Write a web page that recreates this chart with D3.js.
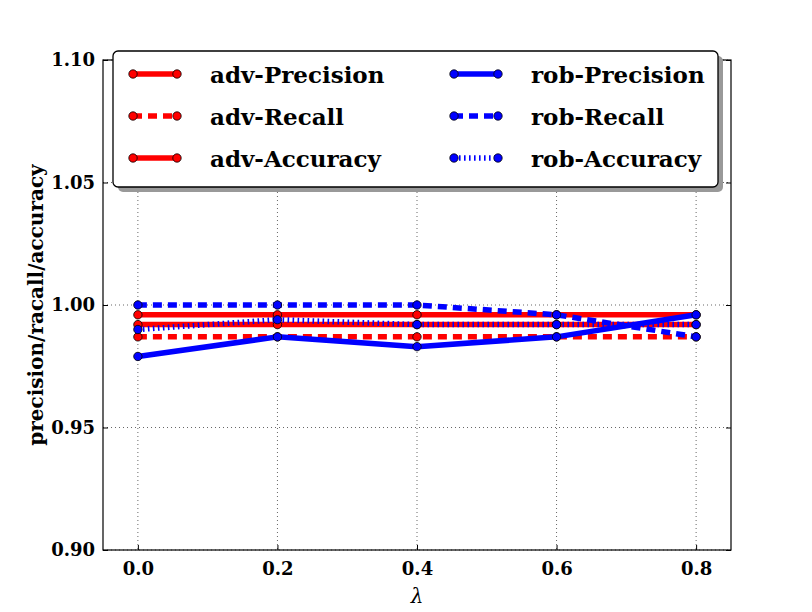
<!DOCTYPE html>
<html><head><meta charset="utf-8">
<script src="https://cdn.jsdelivr.net/npm/d3@7"></script>
<style>body{margin:0;background:#fff}svg{display:block}</style>
</head><body>
<script>
const lambdas = [0.0, 0.2, 0.4, 0.6, 0.8];
const advPrecision = [0.996, 0.996, 0.996, 0.996, 0.996];
const advRecall    = [0.987, 0.987, 0.987, 0.987, 0.987];
const advAccuracy  = [0.992, 0.992, 0.992, 0.992, 0.992];
const robPrecision = [0.979, 0.987, 0.983, 0.987, 0.996];
const robRecall    = [1.000, 1.000, 1.000, 0.996, 0.987];
const robAccuracy  = [0.990, 0.994, 0.992, 0.992, 0.992];
const seriesNames  = ["adv-Precision","adv-Recall","adv-Accuracy","rob-Precision","rob-Recall","rob-Accuracy"];
const xTicks = [0.0, 0.2, 0.4, 0.6, 0.8];
const yTicks = [0.90, 0.95, 1.00, 1.05, 1.10];

const series = [
  {name: seriesNames[0], values: advPrecision, color: "#ff0000", dash: null},
  {name: seriesNames[1], values: advRecall,    color: "#ff0000", dash: "9,6"},
  {name: seriesNames[2], values: advAccuracy,  color: "#ff0000", dash: null},
  {name: seriesNames[3], values: robPrecision, color: "#0000ff", dash: null},
  {name: seriesNames[4], values: robRecall,    color: "#0000ff", dash: "9,6"},
  {name: seriesNames[5], values: robAccuracy,  color: "#0000ff", dash: "1.6,3.4"}
];

const W = 812, H = 612;
const L = 103, R = 731, T = 60, B = 550;
const FONT = "'DejaVu Serif', serif";

const svg = d3.select("body").append("svg").attr("width", W).attr("height", H);
const x = d3.scaleLinear().domain([-0.05, 0.85]).range([L, R]);
const y = d3.scaleLinear().domain([0.90, 1.10]).range([B, T]);

// grid
const grid = svg.append("g");
grid.selectAll(".gx").data(xTicks).enter().append("line")
  .attr("x1", d => x(d)).attr("x2", d => x(d)).attr("y1", T).attr("y2", B)
  .attr("stroke", "#000").attr("stroke-width", 0.6).attr("stroke-dasharray", "1,3");
grid.selectAll(".gy").data(yTicks).enter().append("line")
  .attr("x1", L).attr("x2", R).attr("y1", d => y(d)).attr("y2", d => y(d))
  .attr("stroke", "#000").attr("stroke-width", 0.6).attr("stroke-dasharray", "1,3");

// axes
const xb = svg.append("g").attr("transform", `translate(0,${B})`)
  .call(d3.axisBottom(x).tickValues(xTicks).tickFormat(d3.format(".1f")).tickSizeInner(-5).tickSizeOuter(0).tickPadding(12));
const xt = svg.append("g").attr("transform", `translate(0,${T})`)
  .call(d3.axisTop(x).tickValues(xTicks).tickFormat("").tickSizeInner(-5).tickSizeOuter(0));
const yl = svg.append("g").attr("transform", `translate(${L},0)`)
  .call(d3.axisLeft(y).tickValues(yTicks).tickFormat(d3.format(".2f")).tickSizeInner(-5).tickSizeOuter(0).tickPadding(8));
const yr = svg.append("g").attr("transform", `translate(${R},0)`)
  .call(d3.axisRight(y).tickValues(yTicks).tickFormat("").tickSizeInner(-5).tickSizeOuter(0));
[xb, xt, yl, yr].forEach(g => {
  g.select(".domain").remove();
  g.selectAll(".tick line").attr("stroke", "#000").attr("stroke-width", 1);
  g.selectAll(".tick text").attr("font-family", FONT).attr("font-weight", "bold")
    .attr("font-size", 18).attr("fill", "#000");
});

// lines
const line = d3.line().x((d, i) => x(lambdas[i])).y(d => y(d));
const plot = svg.append("g");
series.forEach(s => {
  const g = plot.append("g");
  g.append("path").datum(s.values).attr("d", line)
    .attr("fill", "none").attr("stroke", s.color).attr("stroke-width", 5.5)
    .attr("stroke-dasharray", s.dash).attr("stroke-linejoin", "round").attr("stroke-linecap", s.dash ? "butt" : "round");
  g.selectAll("circle").data(s.values).enter().append("circle")
    .attr("cx", (d, i) => x(lambdas[i])).attr("cy", d => y(d)).attr("r", 4.2)
    .attr("fill", s.color).attr("stroke", "#000").attr("stroke-width", 0.8);
});

// frame
svg.append("rect").attr("x", L).attr("y", T).attr("width", R - L).attr("height", B - T)
  .attr("fill", "none").attr("stroke", "#000").attr("stroke-width", 1.2);

// axis labels
svg.append("text").attr("x", (L + R) / 2).attr("y", 603).attr("text-anchor", "middle")
  .attr("font-family", FONT).attr("font-style", "italic").attr("font-size", 20).text("λ");
svg.append("text").attr("transform", `translate(43,${(T + B) / 2}) rotate(-90)`)
  .attr("text-anchor", "middle").attr("font-family", FONT).attr("font-weight", "bold")
  .attr("font-size", 20).text("precision/racall/accuracy");

// legend
const lg = svg.append("g");
const LX = 113, LY = 51, LW = 605, LH = 136;
lg.append("rect").attr("x", LX + 5).attr("y", LY + 5).attr("width", LW).attr("height", LH)
  .attr("rx", 5).attr("fill", "#999");
lg.append("rect").attr("x", LX).attr("y", LY).attr("width", LW).attr("height", LH)
  .attr("rx", 5).attr("fill", "#fff").attr("stroke", "#000").attr("stroke-width", 1.3);
const colX = [133, 454];
const rowY = [74, 116, 158];
series.forEach((s, k) => {
  const cx = colX[Math.floor(k / 3)], cy = rowY[k % 3];
  lg.append("line").attr("x1", cx).attr("x2", cx + 44).attr("y1", cy).attr("y2", cy)
    .attr("stroke", s.color).attr("stroke-width", 5.5).attr("stroke-dasharray", s.dash);
  [cx, cx + 44].forEach(px => lg.append("circle").attr("cx", px).attr("cy", cy).attr("r", 4.2)
    .attr("fill", s.color).attr("stroke", "#000").attr("stroke-width", 0.8));
  lg.append("text").attr("x", cx + 77).attr("y", cy + 8.5).attr("font-family", FONT)
    .attr("font-weight", "bold").attr("font-size", 23).text(s.name);
});
</script>
</body></html>
